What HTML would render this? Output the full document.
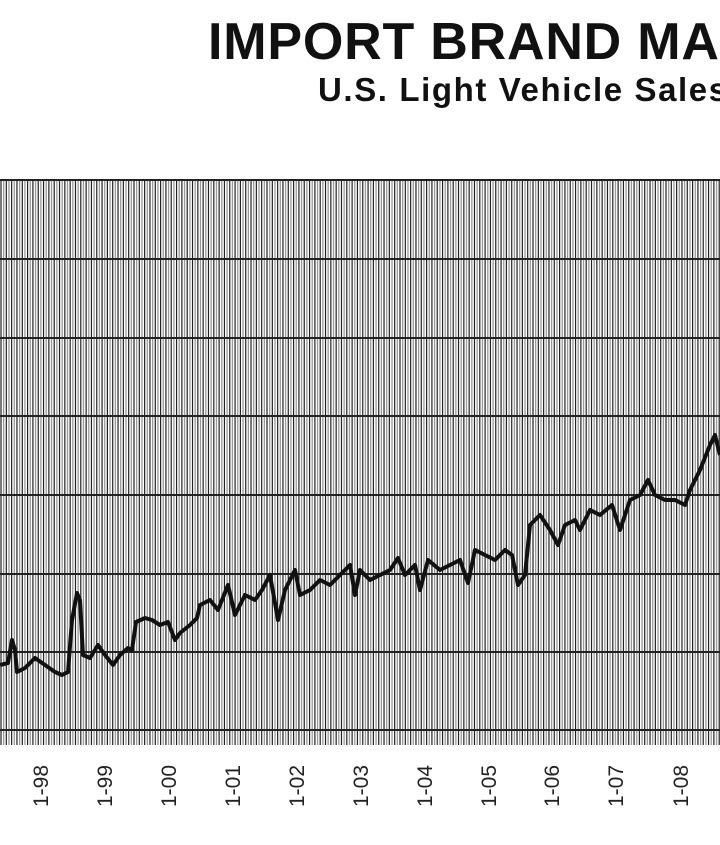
<!DOCTYPE html>
<html><head><meta charset="utf-8"><style>
html,body{margin:0;padding:0;background:#fff;}
svg{display:block}
</style></head><body>
<svg width="720" height="845" xmlns="http://www.w3.org/2000/svg">
<rect width="720" height="845" fill="#fff"/>
<text x="208" y="59" font-family="Liberation Sans, sans-serif" font-weight="bold" font-size="52" letter-spacing="0.8" fill="#111">IMPORT BRAND MARKET SHARE</text>
<text x="318" y="101" font-family="Liberation Sans, sans-serif" font-weight="bold" font-size="33" letter-spacing="1.6" fill="#111">U.S. Light Vehicle Sales</text>
<g id="v"></g>
<g stroke="#222" stroke-width="2">
<line x1="0" x2="720" y1="180" y2="180"/><line x1="0" x2="720" y1="259" y2="259"/>
<line x1="0" x2="720" y1="338" y2="338"/><line x1="0" x2="720" y1="416" y2="416"/>
<line x1="0" x2="720" y1="495" y2="495"/><line x1="0" x2="720" y1="574" y2="574"/>
<line x1="0" x2="720" y1="652" y2="652"/><line x1="0" x2="720" y1="730" y2="730"/>
</g>
<polyline fill="none" stroke="#111" stroke-width="4" stroke-linejoin="round" points="0,665 8,663 12,640 15,650 17,672 25,668 35,658 45,665 55,672 62,675 68,672 72,620 77,593 80,600 83,655 90,658 98,645 105,655 113,665 120,655 128,648 132,650 136,622 145,618 152,620 160,625 168,622 175,640 180,633 190,625 197,618 200,605 210,600 218,610 228,585 235,615 245,595 255,600 262,590 270,575 278,620 285,590 295,570 300,595 310,590 320,580 330,585 340,575 350,565 355,595 360,570 370,580 380,575 390,570 398,558 405,575 415,565 420,590 428,560 440,570 450,565 460,560 468,583 475,550 485,555 495,560 505,550 512,555 518,585 525,575 530,525 540,515 550,530 558,545 565,525 575,520 580,530 590,510 600,515 612,505 620,530 630,500 640,495 648,480 655,495 665,500 675,500 685,505 690,490 700,470 710,445 715,435 720,455"/>
<g font-family="Liberation Sans, sans-serif" font-size="21" fill="#222" text-anchor="middle">
<text transform="translate(48,786) rotate(-90)">1-98</text>
<text transform="translate(112,786) rotate(-90)">1-99</text>
<text transform="translate(176,786) rotate(-90)">1-00</text>
<text transform="translate(240,786) rotate(-90)">1-01</text>
<text transform="translate(304,786) rotate(-90)">1-02</text>
<text transform="translate(368,786) rotate(-90)">1-03</text>
<text transform="translate(432,786) rotate(-90)">1-04</text>
<text transform="translate(496,786) rotate(-90)">1-05</text>
<text transform="translate(559,786) rotate(-90)">1-06</text>
<text transform="translate(623,786) rotate(-90)">1-07</text>
<text transform="translate(688,786) rotate(-90)">1-08</text>
</g>
</svg>
<script>
var g=document.getElementById('v'),s='';
for(var i=0;i<272;i++){var x=1+i*2.66;var d=i%2==0;
s+='<line x1="'+x+'" x2="'+x+'" y1="180" y2="745" stroke="'+(d?'#222':'#999')+'" stroke-width="'+(d?1.2:1.3)+'"/>';}
g.innerHTML=s;
</script>
</body></html>
